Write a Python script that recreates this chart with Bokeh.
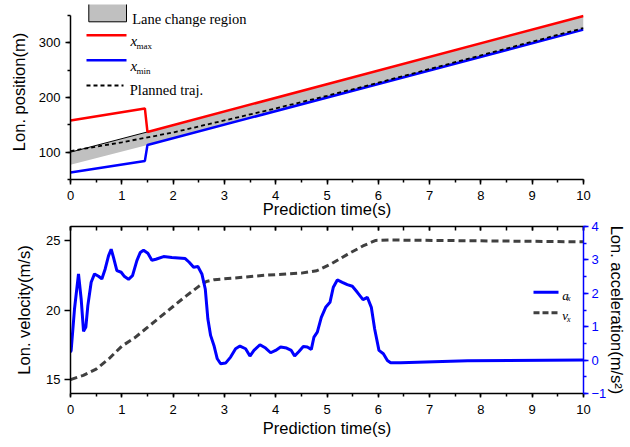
from bokeh.plotting import figure
from bokeh.layouts import column
from bokeh.models import (Range1d, LinearAxis, SingleIntervalTicker, FixedTicker,
                          Label, PolyAnnotation, CustomLabelingPolicy)
from bokeh.embed import file_html
from bokeh.resources import INLINE

# ---------------- data ----------------
bound_t = [0, 1.45, 1.5, 10]
x_max = [158, 180, 137, 349]
x_min = [63, 84, 113, 324]

region_t = [0, 1.5, 10]
region_lo = [77, 113, 324]
region_hi = [100, 137, 349]

plan_t = [0, 1, 2, 3, 4, 5, 6, 7, 8, 9, 10]
plan_x = [102, 118, 136, 158, 180, 203, 227, 252, 277, 302, 327]

vel_t = [0, 0.25, 0.5, 0.75, 1.0, 1.25, 1.5, 1.75, 2.0, 2.25, 2.5, 2.65, 2.8,
         3.2, 3.8, 4.5, 4.8, 5.1, 5.4, 5.7, 5.95, 6.2, 8.0, 10.0]
vel = [15.0, 15.3, 15.75, 16.5, 17.4, 18.0, 18.75, 19.5, 20.25, 21.0, 21.7, 22.05,
       22.18, 22.3, 22.5, 22.65, 22.82, 23.35, 24.0, 24.6, 25.0, 25.03, 24.97, 24.9]

acc_t = [0, 0.013, 0.078, 0.156, 0.208, 0.254, 0.299, 0.338, 0.403, 0.468, 0.546,
         0.611, 0.676, 0.741, 0.793, 0.839, 0.904, 0.988, 1.053, 1.131, 1.209, 1.294,
         1.359, 1.424, 1.508, 1.586, 1.664, 1.814, 1.976, 2.236, 2.314, 2.40, 2.483,
         2.561, 2.627, 2.678, 2.731, 2.796, 2.861, 2.926, 3.023, 3.121, 3.218, 3.303,
         3.413, 3.498, 3.576, 3.693, 3.803, 3.901, 3.998, 4.096, 4.213, 4.304, 4.369,
         4.453, 4.538, 4.616, 4.694, 4.746, 4.811, 4.889, 4.974, 5.058, 5.123, 5.201,
         5.298, 5.396, 5.494, 5.591, 5.702, 5.786, 5.864, 5.929, 6.013, 6.099, 6.177,
         6.241, 6.437, 7.74, 10.0]
acc = [0.24, 0.29, 1.53, 2.58, 1.83, 0.86, 0.99, 1.63, 2.33, 2.58, 2.51,
       2.43, 2.73, 3.12, 3.32, 3.07, 2.68, 2.63, 2.50, 2.42, 2.53, 2.98,
       3.22, 3.29, 3.20, 2.99, 3.02, 3.10, 3.07, 3.04, 2.93, 2.78, 2.80,
       2.58, 2.13, 1.23, 0.74, 0.44, 0.04, -0.11, -0.09, 0.09, 0.34, 0.42,
       0.34, 0.12, 0.29, 0.46, 0.36, 0.22, 0.29, 0.39, 0.36, 0.29, 0.12,
       0.26, 0.41, 0.39, 0.32, 0.69, 0.84, 1.28, 1.58, 1.73, 2.18, 2.40,
       2.33, 2.26, 2.21, 2.03, 1.81, 1.88, 1.58, 0.93, 0.29, 0.19, -0.01,
       -0.08, -0.08, -0.02, 0.0]

SANS = "Liberation Sans"
SERIF = "Liberation Serif"
BLUE = "#0000FF"
RED = "#FF0000"


def style_axis(ax, color="black", tick_out=5, tick_in=0, minor_out=3, minor_in=0):
    ax.axis_line_color = color
    ax.axis_line_width = 1.5
    ax.major_tick_line_color = color
    ax.major_tick_line_width = 1.5
    ax.minor_tick_line_color = color
    ax.minor_tick_line_width = 1.5
    ax.major_tick_out = tick_out
    ax.major_tick_in = tick_in
    ax.minor_tick_out = minor_out
    ax.minor_tick_in = minor_in
    ax.major_label_text_font = SANS
    ax.major_label_text_font_size = "13px"
    ax.major_label_text_color = color
    ax.axis_label_text_font = SANS
    ax.axis_label_text_font_size = "16.5px"
    ax.axis_label_text_font_style = "normal"
    ax.axis_label_text_color = "black"


def lab(p, x, y, text, size, style="normal", font=SERIF, color="black"):
    p.add_layout(Label(x=x, y=y, x_units="screen", y_units="screen", text=text,
                       text_font=font, text_font_size=size, text_font_style=style,
                       text_color=color, text_baseline="alphabetic", text_align="left"))


def seg(p, xs, ys, color, width, dash="solid"):
    p.add_layout(PolyAnnotation(xs=xs, ys=ys, xs_units="screen", ys_units="screen",
                                fill_color=None, fill_alpha=0, line_color=color,
                                line_alpha=1, line_width=width, line_dash=dash,
                                level="overlay"))


# ---------------- top panel ----------------
p1 = figure(width=630, height=220, x_range=Range1d(0, 10), y_range=Range1d(50, 370),
            output_backend="svg", toolbar_location=None,
            min_border_left=70, min_border_right=47, min_border_top=4, min_border_bottom=40)
p1.outline_line_color = None
p1.grid.visible = False

xa = p1.xaxis[0]
xa.ticker = SingleIntervalTicker(interval=1, num_minor_ticks=2)
style_axis(xa)
xa.axis_label = "Prediction time(s)"
xa.major_label_standoff = 6
xa.axis_label_standoff = -3

ya = p1.yaxis[0]
ya.ticker = SingleIntervalTicker(interval=100, num_minor_ticks=2)
ya.bounds = (50, 350)
style_axis(ya)
ya.axis_label = "Lon. position(m)"
ya.major_label_standoff = 5
ya.axis_label_standoff = 8

p1.varea(x=region_t, y1=region_lo, y2=region_hi, fill_color="#C0C0C0")
p1.line(region_t[:2], region_hi[:2], line_color="black", line_width=1)
p1.line(bound_t, x_max, line_color=RED, line_width=2.5)
p1.line(bound_t, x_min, line_color=BLUE, line_width=2.5)
p1.line(plan_t, plan_x, line_color="black", line_width=1.8, line_dash="4 3")

# legend of top panel (frame-relative screen units)
p1.add_layout(PolyAnnotation(xs=[18.3, 56, 56, 18.3], ys=[157.7, 157.7, 176, 176],
                             xs_units="screen", ys_units="screen",
                             fill_color="#C0C0C0", fill_alpha=1,
                             line_color="black", line_alpha=1, line_width=1, level="overlay"))
seg(p1, [16, 56], [144.3, 144.3], RED, 2.5)
seg(p1, [16, 56], [119.3, 119.3], BLUE, 2.5)
seg(p1, [16, 53], [94, 94], "black", 1.8, "4 3")
lab(p1, 61.7, 160.7, "Lane change region", "14.5px")
lab(p1, 60, 138.3, "x", "15px", "italic")
lab(p1, 66, 133.3, "max", "9px")
lab(p1, 60, 113.3, "x", "15px", "italic")
lab(p1, 66, 108.3, "min", "9px")
lab(p1, 59.3, 89.3, "Planned traj.", "14.5px")

# ---------------- bottom panel ----------------
p2 = figure(width=630, height=227, x_range=Range1d(0, 10), y_range=Range1d(14, 26),
            output_backend="svg", toolbar_location=None,
            min_border_left=70, min_border_right=47, min_border_top=6, min_border_bottom=54)
p2.outline_line_color = None
p2.grid.visible = False
p2.extra_y_ranges = {"acc": Range1d(-1, 4)}

bx = p2.xaxis[0]
bx.ticker = SingleIntervalTicker(interval=1, num_minor_ticks=2)
style_axis(bx, tick_out=4, minor_out=3)
bx.axis_label = "Prediction time(s)"
bx.major_label_standoff = 7
bx.axis_label_standoff = 2

by = p2.yaxis[0]
by.ticker = FixedTicker(ticks=[15, 20, 25], minor_ticks=[])
style_axis(by, tick_out=6)
by.axis_label = "Lon. velocity(m/s)"
by.major_label_standoff = 4
by.axis_label_standoff = 10

top_ax = LinearAxis(ticker=SingleIntervalTicker(interval=1, num_minor_ticks=2))
style_axis(top_ax, tick_out=0, tick_in=4, minor_out=0, minor_in=4)
top_ax.major_label_policy = CustomLabelingPolicy(code="return new Set()")
top_ax.major_label_text_font_size = "1px"
top_ax.major_label_standoff = 0
p2.add_layout(top_ax, "above")

ra = LinearAxis(y_range_name="acc", ticker=SingleIntervalTicker(interval=1, num_minor_ticks=2))
style_axis(ra, color=BLUE, tick_out=5, minor_out=3)
ra.axis_label = "Lon. acceleration(m/s\u00b2)"
ra.major_label_standoff = 3
ra.axis_label_standoff = -1
p2.add_layout(ra, "right")

p2.line(vel_t, vel, line_color="#404040", line_width=3, line_dash="7 4")
p2.line(acc_t, acc, y_range_name="acc", line_color=BLUE, line_width=3)

# legend of bottom panel
seg(p2, [463, 488], [101.3, 101.3], BLUE, 3)
seg(p2, [463, 488], [80.7, 80.7], "#404040", 3, "6 3")
lab(p2, 491.7, 98, "a", "13px", "italic")
lab(p2, 496.5, 94.7, "x", "8px", "italic")
lab(p2, 491.7, 78, "v", "13px", "italic")
lab(p2, 496.5, 73.7, "x", "8px", "italic")

layout = column(p1, p2, spacing=0)
open("out.html", "w").write(file_html(layout, INLINE))
